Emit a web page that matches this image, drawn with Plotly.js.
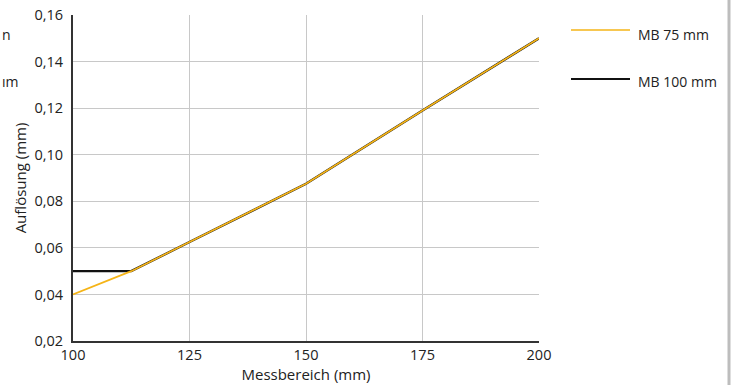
<!DOCTYPE html>
<html><head><meta charset="utf-8">
<script src="https://cdn.plot.ly/plotly-3.0.1.min.js"></script>
<style>html,body{margin:0;padding:0;background:#fff}#c{width:737px;height:385px}</style>
</head><body><div id="c"></div>
<script>
const xMB75 = [100, 112.5, 125, 150, 175, 200];
const yMB75 = [0.04, 0.05, 0.0625, 0.0875, 0.119, 0.15];
const xMB100 = [100, 112.5, 125, 150, 175, 200];
const yMB100 = [0.05, 0.05, 0.0625, 0.0875, 0.119, 0.15];
const seriesNames = ["MB 75 mm", "MB 100 mm"];
const xTicks = [100, 125, 150, 175, 200];
const yTicks = [0.02, 0.04, 0.06, 0.08, 0.10, 0.12, 0.14, 0.16];

const FONT = "Open Sans, Lato, sans-serif";
const data = [
  {x: xMB100, y: yMB100, type: "scatter", mode: "lines", name: seriesNames[1],
   line: {color: "#111111", width: 2.4}, showlegend: false, hoverinfo: "skip"},
  {x: xMB75, y: yMB75, type: "scatter", mode: "lines", name: seriesNames[0],
   line: {color: "#f5b417", width: 1.7}, showlegend: false, hoverinfo: "skip"}
];
const pw = 466;
function px(p){ return (p - 73) / pw; }
const layout = {
  width: 737, height: 385,
  margin: {l: 73, r: 198, t: 15, b: 44},
  paper_bgcolor: "#fff", plot_bgcolor: "#fff",
  separators: ",.",
  font: {family: FONT, size: 14, color: "#222"},
  xaxis: {range: [100, 200], tickvals: xTicks, ticktext: xTicks.map(String),
    showgrid: true, gridcolor: "#c8c8c8", gridwidth: 1,
    showline: true, linecolor: "#333", linewidth: 2, zeroline: false,
    ticks: "", tickfont: {size: 14.5}, ticklabelstandoff: 0,
    title: {text: "Messbereich (mm)", font: {size: 15}, standoff: 0}},
  yaxis: {range: [0.02, 0.16], tickvals: yTicks, tickformat: ".2f",
    showgrid: true, gridcolor: "#c8c8c8", gridwidth: 1,
    showline: true, linecolor: "#333", linewidth: 2, zeroline: false,
    ticks: "", tickfont: {size: 14.5}, ticklabelstandoff: 5,
    title: {text: "Auflösung (mm)", font: {size: 15}, standoff: 4}},
  shapes: [
    {type: "line", xref: "paper", yref: "paper", x0: px(571), x1: px(630), y0: (341-30)/326, y1: (341-30)/326,
     line: {color: "#f5b417", width: 1.7}},
    {type: "line", xref: "paper", yref: "paper", x0: px(571), x1: px(630), y0: (341-79)/326, y1: (341-79)/326,
     line: {color: "#111111", width: 2}},
    {type: "line", xref: "paper", yref: "paper", x0: px(729), x1: px(729), y0: -1, y1: 2,
     line: {color: "#bdbdbd", width: 3}}
  ],
  annotations: [
    {xref: "paper", yref: "paper", x: px(636), y: (341-34)/326, xanchor: "left", yanchor: "middle",
     text: seriesNames[0], showarrow: false, font: {size: 14, color: "#222"}},
    {xref: "paper", yref: "paper", x: px(636), y: (341-81)/326, xanchor: "left", yanchor: "middle",
     text: seriesNames[1], showarrow: false, font: {size: 14, color: "#222"}},
    {xref: "paper", yref: "paper", x: px(0), y: (341-34)/326, xanchor: "left", yanchor: "middle",
     text: "n", showarrow: false, font: {size: 14, color: "#222"}},
    {xref: "paper", yref: "paper", x: px(0), y: (341-81)/326, xanchor: "left", yanchor: "middle",
     text: "ım", showarrow: false, font: {size: 14, color: "#222"}}
  ]
};
Plotly.newPlot("c", data, layout, {displayModeBar: false, staticPlot: true});
</script></body></html>
